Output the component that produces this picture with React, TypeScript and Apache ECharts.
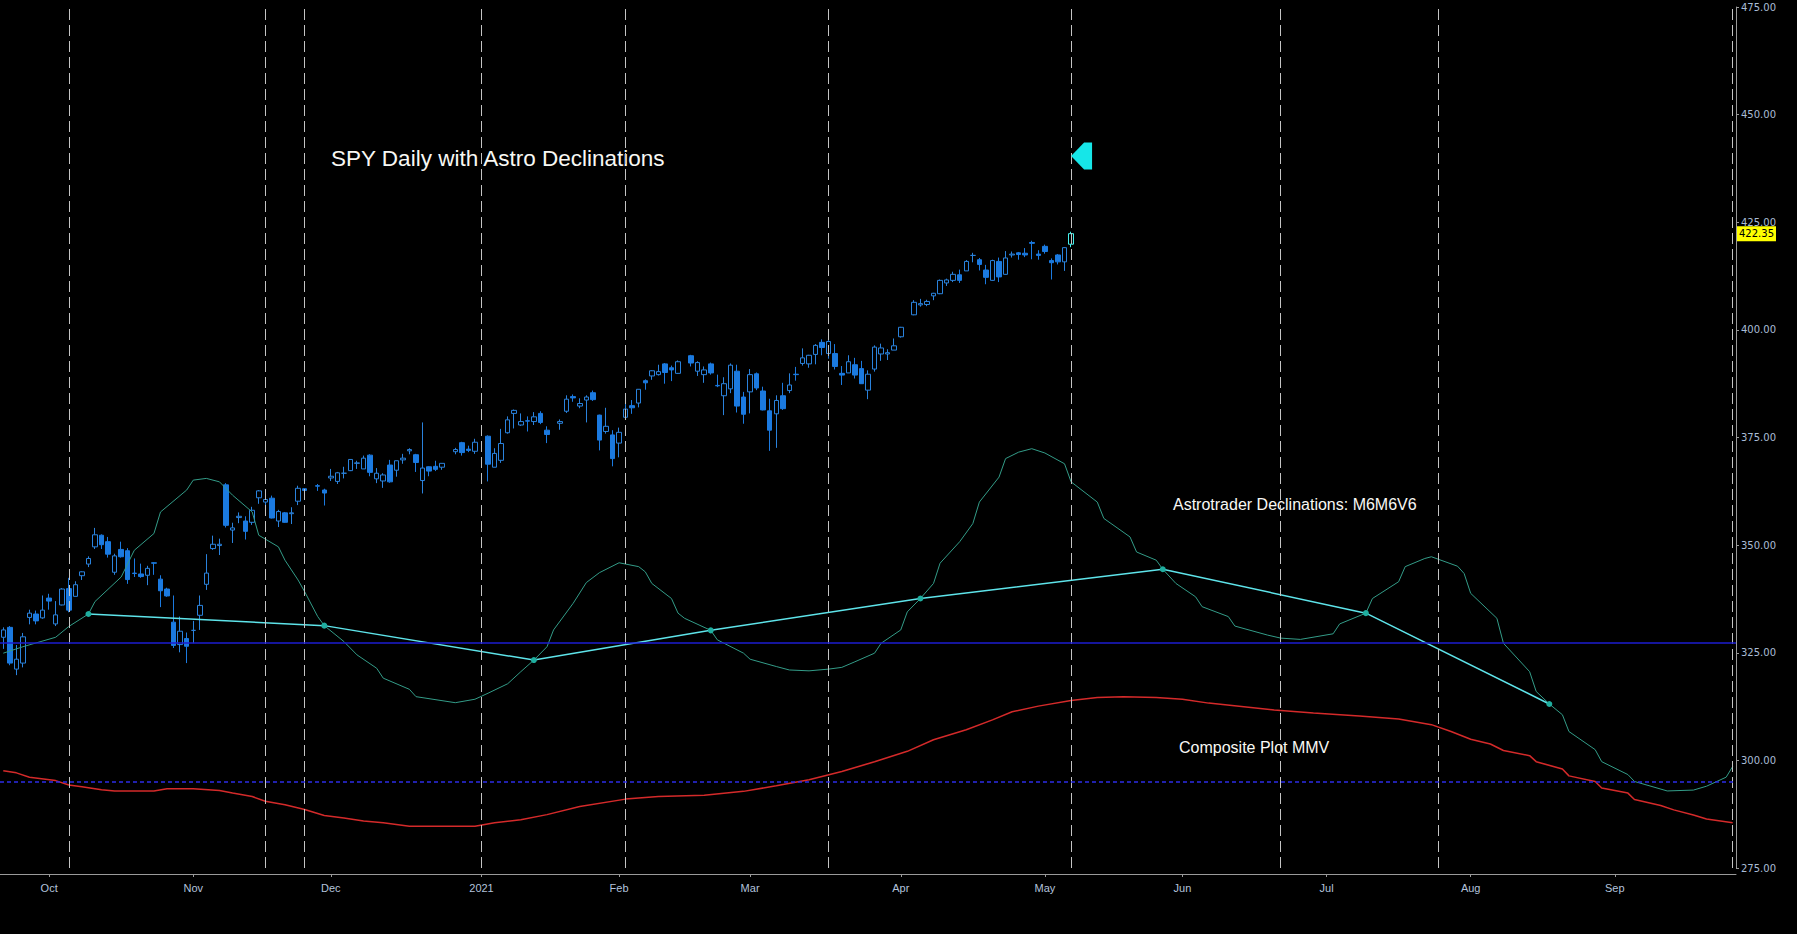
import React, { useEffect, useRef } from "react";
import * as echarts from "echarts";

// ---------- calendar (weekday slots, Bloomberg style) ----------
const START_DATE = "2020-09-22";
const SLOT_COUNT = 265;
const MONTH_NAMES = ["2021", "Feb", "Mar", "Apr", "May", "Jun", "Jul", "Aug", "Sep", "Oct", "Nov", "Dec"];

// ---------- SPY daily candles: [date, open, high, low, close] ----------
const SPY_OHLC: [string, number, number, number, number][] = [
  ["2020-09-22", 328.6, 330.9, 325.9, 330.3],
  ["2020-09-23", 330.9, 331.2, 322.1, 322.6],
  ["2020-09-24", 321.2, 326.8, 319.8, 323.5],
  ["2020-09-25", 322.6, 329.6, 321.6, 328.7],
  ["2020-09-28", 333.2, 335.0, 331.6, 334.2],
  ["2020-09-29", 334.0, 334.8, 331.6, 332.4],
  ["2020-09-30", 333.1, 338.3, 332.9, 334.9],
  ["2020-10-01", 337.7, 338.7, 335.0, 337.0],
  ["2020-10-02", 331.7, 337.0, 331.2, 333.8],
  ["2020-10-05", 336.1, 340.0, 336.0, 339.8],
  ["2020-10-06", 339.9, 342.4, 334.4, 334.9],
  ["2020-10-07", 338.1, 341.6, 338.1, 340.8],
  ["2020-10-08", 342.9, 343.9, 341.9, 343.8],
  ["2020-10-09", 345.6, 347.4, 344.9, 346.9],
  ["2020-10-12", 349.6, 354.0, 349.1, 352.4],
  ["2020-10-13", 352.3, 352.5, 349.1, 350.1],
  ["2020-10-14", 350.8, 351.9, 347.1, 347.9],
  ["2020-10-15", 343.7, 348.0, 343.1, 347.5],
  ["2020-10-16", 349.0, 350.8, 347.1, 347.3],
  ["2020-10-19", 348.7, 349.3, 341.0, 342.0],
  ["2020-10-20", 343.5, 346.9, 342.6, 343.4],
  ["2020-10-21", 343.3, 345.7, 342.4, 342.7],
  ["2020-10-22", 343.0, 345.2, 340.7, 344.6],
  ["2020-10-23", 345.9, 346.0, 343.1, 345.8],
  ["2020-10-26", 342.1, 343.0, 335.6, 339.4],
  ["2020-10-27", 339.8, 340.1, 338.0, 338.2],
  ["2020-10-28", 332.1, 338.3, 326.1, 326.7],
  ["2020-10-29", 326.9, 333.4, 325.1, 330.0],
  ["2020-10-30", 328.3, 329.7, 322.6, 326.5],
  ["2020-11-02", 330.2, 332.4, 327.2, 330.2],
  ["2020-11-03", 333.7, 338.3, 330.3, 336.0],
  ["2020-11-04", 340.9, 347.9, 339.6, 343.5],
  ["2020-11-05", 349.2, 352.2, 348.9, 350.2],
  ["2020-11-06", 349.9, 351.5, 347.7, 350.2],
  ["2020-11-09", 364.0, 364.4, 354.1, 354.6],
  ["2020-11-10", 353.5, 355.2, 350.5, 354.0],
  ["2020-11-11", 356.4, 357.6, 355.1, 356.7],
  ["2020-11-12", 355.6, 356.7, 351.3, 353.2],
  ["2020-11-13", 355.3, 358.9, 354.7, 358.1],
  ["2020-11-16", 361.0, 362.8, 359.6, 362.6],
  ["2020-11-17", 360.0, 361.9, 358.3, 360.6],
  ["2020-11-18", 360.9, 361.5, 356.2, 356.3],
  ["2020-11-19", 355.6, 358.2, 354.2, 357.8],
  ["2020-11-20", 357.5, 357.7, 355.2, 355.3],
  ["2020-11-23", 357.3, 358.8, 354.9, 357.5],
  ["2020-11-24", 360.2, 363.8, 359.3, 363.2],
  ["2020-11-25", 363.1, 363.2, 361.2, 362.7],
  ["2020-11-27", 363.8, 364.2, 362.6, 363.7],
  ["2020-11-30", 362.8, 363.1, 359.2, 362.1],
  ["2020-12-01", 365.6, 367.7, 364.9, 366.0],
  ["2020-12-02", 364.8, 367.0, 364.2, 366.8],
  ["2020-12-03", 366.7, 368.2, 365.5, 366.7],
  ["2020-12-04", 367.3, 369.9, 367.2, 369.9],
  ["2020-12-07", 369.0, 369.6, 367.7, 369.1],
  ["2020-12-08", 367.7, 370.8, 367.7, 370.2],
  ["2020-12-09", 370.9, 371.1, 366.0, 366.9],
  ["2020-12-10", 365.4, 367.9, 364.4, 366.7],
  ["2020-12-11", 364.9, 366.7, 363.3, 366.3],
  ["2020-12-14", 368.6, 369.8, 364.5, 364.7],
  ["2020-12-15", 367.4, 369.6, 365.9, 369.6],
  ["2020-12-16", 369.8, 371.2, 368.9, 370.2],
  ["2020-12-17", 371.9, 372.5, 371.1, 372.2],
  ["2020-12-18", 371.0, 371.2, 367.0, 369.2],
  ["2020-12-21", 365.0, 378.5, 362.0, 367.9],
  ["2020-12-22", 368.2, 368.3, 366.0, 367.2],
  ["2020-12-23", 368.3, 369.6, 367.2, 367.6],
  ["2020-12-24", 368.1, 369.0, 367.5, 369.0],
  ["2020-12-28", 371.7, 372.6, 371.1, 372.2],
  ["2020-12-29", 373.8, 374.0, 370.8, 371.5],
  ["2020-12-30", 372.3, 373.1, 371.6, 372.0],
  ["2020-12-31", 371.8, 374.7, 371.2, 373.9],
  ["2021-01-04", 375.3, 375.5, 364.8, 368.8],
  ["2021-01-05", 368.1, 372.5, 368.1, 371.3],
  ["2021-01-06", 369.7, 377.0, 369.1, 373.6],
  ["2021-01-07", 376.1, 379.9, 375.9, 379.1],
  ["2021-01-08", 380.6, 381.5, 377.1, 381.3],
  ["2021-01-11", 377.9, 380.6, 377.7, 378.7],
  ["2021-01-12", 378.9, 379.9, 376.4, 378.8],
  ["2021-01-13", 378.7, 380.9, 377.9, 379.8],
  ["2021-01-14", 380.6, 381.1, 378.1, 378.5],
  ["2021-01-15", 376.7, 377.6, 373.7, 375.7],
  ["2021-01-19", 378.3, 379.2, 376.8, 378.7],
  ["2021-01-20", 381.1, 384.8, 380.7, 383.9],
  ["2021-01-21", 384.5, 385.0, 383.3, 384.2],
  ["2021-01-22", 382.3, 384.1, 381.8, 382.9],
  ["2021-01-25", 383.7, 384.8, 378.5, 384.4],
  ["2021-01-26", 385.4, 385.9, 383.5, 383.8],
  ["2021-01-27", 380.2, 380.3, 372.0, 374.4],
  ["2021-01-28", 376.4, 381.9, 375.9, 377.6],
  ["2021-01-29", 375.6, 376.7, 368.3, 370.1],
  ["2021-02-01", 373.7, 377.3, 370.4, 376.2],
  ["2021-02-02", 379.7, 383.2, 379.5, 381.6],
  ["2021-02-03", 382.4, 383.7, 380.5, 381.9],
  ["2021-02-04", 383.0, 386.2, 382.0, 386.2],
  ["2021-02-05", 388.2, 388.5, 386.1, 387.7],
  ["2021-02-08", 389.3, 390.6, 388.4, 390.5],
  ["2021-02-09", 389.6, 391.9, 389.4, 390.3],
  ["2021-02-10", 392.1, 392.3, 387.5, 390.1],
  ["2021-02-11", 391.2, 391.7, 388.1, 390.7],
  ["2021-02-12", 389.9, 392.9, 389.8, 392.6],
  ["2021-02-16", 394.0, 394.2, 391.5, 392.3],
  ["2021-02-17", 390.4, 392.7, 389.3, 392.4],
  ["2021-02-18", 389.6, 391.5, 387.7, 390.7],
  ["2021-02-19", 392.1, 392.4, 389.6, 390.0],
  ["2021-02-22", 387.1, 389.6, 386.7, 387.0],
  ["2021-02-23", 384.7, 389.0, 380.2, 387.5],
  ["2021-02-24", 386.3, 392.2, 385.3, 391.8],
  ["2021-02-25", 390.4, 391.9, 380.8, 382.3],
  ["2021-02-26", 384.4, 385.6, 378.2, 380.4],
  ["2021-03-01", 385.6, 390.9, 380.6, 389.6],
  ["2021-03-02", 389.8, 390.1, 386.0, 386.5],
  ["2021-03-03", 385.8, 386.8, 381.3, 381.4],
  ["2021-03-04", 381.2, 384.0, 371.9, 376.7],
  ["2021-03-05", 380.5, 384.8, 372.6, 383.6],
  ["2021-03-08", 384.7, 387.7, 381.4, 381.7],
  ["2021-03-09", 385.9, 389.9, 385.3, 387.2],
  ["2021-03-10", 389.7, 391.4, 388.2, 389.6],
  ["2021-03-11", 392.2, 395.7, 391.7, 393.5],
  ["2021-03-12", 392.1, 394.2, 391.2, 394.1],
  ["2021-03-15", 394.3, 396.7, 392.0, 396.4],
  ["2021-03-16", 397.1, 397.8, 394.1, 395.9],
  ["2021-03-17", 394.5, 398.1, 393.3, 397.3],
  ["2021-03-18", 394.5, 396.7, 390.8, 391.5],
  ["2021-03-19", 389.9, 391.6, 387.2, 389.5],
  ["2021-03-22", 390.0, 394.1, 390.0, 392.6],
  ["2021-03-23", 391.9, 393.5, 388.7, 389.5],
  ["2021-03-24", 391.0, 392.8, 387.5, 387.5],
  ["2021-03-25", 386.0, 390.6, 383.9, 389.7],
  ["2021-03-26", 390.9, 396.4, 390.3, 396.0],
  ["2021-03-29", 394.4, 396.8, 392.8, 395.8],
  ["2021-03-30", 394.4, 395.5, 393.0, 394.7],
  ["2021-03-31", 395.3, 398.0, 395.3, 396.3],
  ["2021-04-01", 398.4, 400.7, 398.2, 400.6],
  ["2021-04-05", 403.5, 406.9, 403.4, 406.4],
  ["2021-04-06", 405.8, 407.2, 405.4, 406.1],
  ["2021-04-07", 405.9, 407.0, 405.5, 406.6],
  ["2021-04-08", 407.9, 408.6, 406.9, 408.5],
  ["2021-04-09", 408.4, 411.7, 408.3, 411.5],
  ["2021-04-12", 410.9, 411.9, 410.2, 411.6],
  ["2021-04-13", 411.5, 413.5, 411.1, 412.9],
  ["2021-04-14", 412.8, 414.0, 410.9, 411.5],
  ["2021-04-15", 413.7, 416.2, 413.7, 415.9],
  ["2021-04-16", 417.3, 417.9, 415.7, 417.3],
  ["2021-04-19", 416.3, 416.7, 413.8, 415.2],
  ["2021-04-20", 413.9, 415.1, 410.6, 412.2],
  ["2021-04-21", 411.5, 416.3, 411.4, 416.1],
  ["2021-04-22", 415.9, 416.8, 411.1, 412.3],
  ["2021-04-23", 412.9, 418.3, 412.8, 416.7],
  ["2021-04-26", 417.4, 418.2, 416.8, 417.6],
  ["2021-04-27", 417.9, 418.1, 416.3, 417.5],
  ["2021-04-28", 417.8, 419.0, 416.9, 417.4],
  ["2021-04-29", 420.3, 420.7, 416.4, 420.1],
  ["2021-04-30", 417.6, 418.5, 416.3, 417.3],
  ["2021-05-03", 419.4, 419.8, 417.7, 418.2],
  ["2021-05-04", 416.1, 416.6, 411.7, 415.6],
  ["2021-05-05", 417.4, 417.6, 415.2, 415.8],
  ["2021-05-06", 415.8, 419.2, 413.7, 419.1],
  ["2021-05-07", 419.9, 422.8, 419.2, 422.35],
];
const LAST_PRICE = 422.35;

// ---------- Astrotrader declinations M6M6V6 (slot index, value) ----------
const DECL_DAY = [0, 3, 8, 10, 13, 14, 18, 20, 23, 24, 28, 29, 31, 33, 35, 38, 39, 42, 43, 45, 46, 48, 49, 52, 54, 57, 58, 62, 63, 69, 72, 74, 77, 79, 81, 83, 84, 87, 89, 91, 94, 97, 98, 99, 102, 103, 104, 108, 109, 113, 114, 118, 120, 123, 126, 128, 130, 133, 134, 137, 138, 140, 142, 143, 146, 148, 149, 152, 153, 155, 157, 159, 162, 163, 167, 168, 172, 173, 176, 177, 179, 182, 183, 187, 188, 193, 195, 198, 203, 204, 208, 209, 213, 214, 217, 218, 222, 223, 224, 228, 229, 233, 234, 236, 238, 239, 243, 244, 248, 249, 254, 258, 260, 263, 264];
const DECL_VAL = [324.9, 326.4, 328.6, 331.1, 334.0, 336.9, 342.6, 348.8, 352.7, 357.7, 362.8, 365.1, 365.5, 364.7, 361.6, 357.7, 352.3, 349.6, 346.5, 341.9, 339.2, 333.4, 331.3, 327.6, 324.5, 321.4, 319.1, 316.5, 314.8, 313.4, 314.2, 315.6, 317.8, 320.6, 323.3, 326.4, 330.3, 336.5, 341.3, 343.6, 345.9, 345.0, 343.8, 341.1, 337.6, 334.2, 333.0, 330.2, 328.0, 324.9, 323.5, 321.8, 321.0, 320.8, 321.2, 321.6, 322.9, 324.9, 327.2, 330.3, 334.5, 337.6, 341.1, 345.8, 350.8, 355.0, 360.0, 365.8, 370.1, 371.6, 372.4, 371.4, 368.9, 364.7, 360.0, 356.2, 351.9, 348.4, 346.5, 344.4, 341.1, 338.0, 335.7, 333.4, 331.2, 329.1, 328.4, 328.1, 329.4, 331.7, 334.2, 337.6, 341.5, 345.0, 346.9, 347.3, 345.1, 343.4, 338.8, 333.0, 327.2, 320.6, 316.0, 313.1, 310.6, 306.7, 302.5, 299.7, 296.7, 295.1, 292.9, 293.1, 294.0, 296.1, 298.6];

// ---------- turning-point trend line ----------
const PIVOT_DAY = [13, 49, 81, 108, 140, 177, 208, 236];
const PIVOT_VAL = [334.0, 331.3, 323.3, 330.2, 337.6, 344.4, 334.2, 313.1];

// ---------- Composite Plot MMV ----------
const MMV_DAY = [0, 2, 4, 8, 10, 12, 15, 17, 23, 25, 29, 33, 35, 38, 40, 43, 46, 49, 52, 55, 58, 62, 72, 75, 79, 83, 88, 95, 100, 107, 113, 118, 123, 128, 133, 138, 142, 147, 151, 154, 158, 163, 167, 171, 176, 180, 184, 194, 200, 207, 213, 218, 221, 224, 227, 229, 233, 234, 238, 239, 243, 244, 248, 249, 253, 255, 258, 260, 264];
const MMV_VAL = [297.6, 297.1, 296.1, 295.3, 294.3, 293.9, 293.2, 292.9, 292.9, 293.4, 293.4, 293.0, 292.4, 291.6, 290.5, 289.7, 288.6, 287.2, 286.6, 285.9, 285.5, 284.7, 284.7, 285.5, 286.2, 287.4, 289.3, 291.0, 291.6, 291.9, 292.8, 294.1, 295.5, 297.4, 299.7, 302.1, 304.8, 307.1, 309.4, 311.3, 312.6, 313.9, 314.6, 314.8, 314.6, 314.2, 313.3, 311.7, 311.0, 310.3, 309.6, 308.3, 306.7, 304.9, 303.8, 302.3, 301.1, 299.7, 298.0, 296.4, 295.1, 293.6, 292.4, 290.9, 289.5, 288.5, 287.3, 286.4, 285.5];

// ---------- reference lines ----------
const CYCLE_DATES = ["2020-10-06", "2020-11-17", "2020-11-25", "2021-01-01", "2021-02-02", "2021-03-17", "2021-05-07", "2021-06-22", "2021-07-26", "2021-09-27"];
const SOLID_LEVEL = 327.3;
const DASHED_LEVEL = 295.0;
const ARROW_LEVEL = 440.4;

function buildWeekdays(): string[] {
  const out: string[] = [];
  const [y, m, d] = START_DATE.split("-").map(Number);
  let t = Date.UTC(y, m - 1, d);
  while (out.length < SLOT_COUNT) {
    const dt = new Date(t);
    const wd = dt.getUTCDay();
    if (wd !== 0 && wd !== 6) out.push(dt.toISOString().slice(0, 10));
    t += 86400000;
  }
  return out;
}

export default function App() {
  const ref = useRef<HTMLDivElement>(null);

  useEffect(() => {
    if (!ref.current) return;
    const chart = echarts.init(ref.current, undefined, { renderer: "svg" });

    const cats = buildWeekdays();
    const isMonthStart = cats.map((c, i) => i > 0 && c.slice(5, 7) !== cats[i - 1].slice(5, 7));
    const byDate: Record<string, [string, number, number, number, number]> = {};
    SPY_OHLC.forEach((r) => (byDate[r[0]] = r));
    const lastDate = SPY_OHLC[SPY_OHLC.length - 1][0];
    const lastIdx = cats.indexOf(lastDate);

    const candleData = cats.map((c) => {
      const r = byDate[c];
      if (!r) return ["-", "-", "-", "-"];
      const v = [r[1], r[4], r[3], r[2]];
      if (c === lastDate) {
        return {
          value: v,
          itemStyle: { color: "rgba(0,0,0,0)", color0: "rgba(0,0,0,0)", borderColor: "#46f2ee", borderColor0: "#46f2ee" },
        };
      }
      return v;
    });

    const pair = (xs: number[], ys: number[]) => xs.map((x, i) => [x, ys[i]]);
    const labelInterval = (idx: number) => isMonthStart[idx];

    const vLines = CYCLE_DATES.map((d) => ({
      xAxis: cats.indexOf(d),
      lineStyle: { color: "#c4c4c4", width: 1, type: [11, 5] },
    }));

    const option: any = {
      animation: false,
      backgroundColor: "#000000",
      grid: { left: 0, right: 61, top: 7, bottom: 66, containLabel: false },
      xAxis: {
        type: "category",
        data: cats,
        boundaryGap: true,
        offset: 6,
        axisLine: { show: true, lineStyle: { color: "#9a9a9a", width: 1 } },
        axisTick: { show: true, alignWithLabel: true, interval: labelInterval, length: 3, lineStyle: { color: "#9a9a9a" } },
        axisLabel: {
          interval: labelInterval,
          formatter: (v: string) => MONTH_NAMES[Number(v.slice(5, 7)) - 1],
          color: "#b3c3dc",
          fontSize: 11,
          fontFamily: "Liberation Sans",
          margin: 8,
        },
        splitLine: { show: false },
      },
      yAxis: {
        type: "value",
        position: "right",
        min: 275,
        max: 475,
        interval: 25,
        axisLine: { show: true, lineStyle: { color: "#9a9a9a", width: 1 } },
        axisTick: { show: true, length: 3, lineStyle: { color: "#9a9a9a" } },
        axisLabel: {
          formatter: (v: number) => v.toFixed(2),
          color: "#a9bcd6",
          fontSize: 10,
          fontFamily: "DejaVu Sans",
          margin: 5,
        },
        splitLine: { show: false },
      },
      graphic: [
        {
          type: "text",
          x: 331,
          y: 158,
          style: { text: "SPY Daily with Astro Declinations", fill: "#f8f8f4", fontSize: 22.5, fontFamily: "Liberation Sans", verticalAlign: "middle" },
        },
        {
          type: "text",
          x: 1173,
          y: 504,
          style: { text: "Astrotrader Declinations: M6M6V6", fill: "#f8f8f4", fontSize: 16, fontFamily: "Liberation Sans", verticalAlign: "middle" },
        },
        {
          type: "text",
          x: 1179,
          y: 747,
          style: { text: "Composite Plot MMV", fill: "#f8f8f4", fontSize: 16, fontFamily: "Liberation Sans", verticalAlign: "middle" },
        },
      ],
      series: [
        {
          name: "Composite Plot MMV",
          type: "line",
          data: pair(MMV_DAY, MMV_VAL),
          showSymbol: false,
          lineStyle: { color: "#d42a2a", width: 1.5 },
          silent: true,
          markLine: {
            silent: true,
            symbol: ["none", "none"],
            label: { show: false },
            data: [
              ...vLines,
              { yAxis: SOLID_LEVEL, lineStyle: { color: "#1c1cd0", width: 1.5, type: "solid" } },
              { yAxis: DASHED_LEVEL, lineStyle: { color: "#2c2ce6", width: 1.5, type: [4, 3] } },
            ],
          },
        },
        {
          name: "Astrotrader Declinations",
          type: "line",
          data: pair(DECL_DAY, DECL_VAL),
          showSymbol: false,
          lineStyle: { color: "#339c88", width: 1 },
          silent: true,
        },
        {
          name: "Pivots",
          type: "line",
          data: pair(PIVOT_DAY, PIVOT_VAL),
          symbol: "circle",
          showSymbol: true,
          showAllSymbol: true,
          symbolSize: 6,
          itemStyle: { color: "#1fae9f", borderWidth: 0 },
          lineStyle: { color: "#5ee4ea", width: 1.5 },
          silent: true,
          z: 3,
        },
        {
          name: "SPY",
          type: "candlestick",
          data: candleData,
          barWidth: 5,
          silent: true,
          itemStyle: {
            color: "rgba(0,0,0,0)",
            color0: "#1b7ae0",
            borderColor: "#2a82dc",
            borderColor0: "#1b7ae0",
            borderColorDoji: "#2a82dc",
            borderWidth: 1,
          },
          markLine: {
            silent: true,
            symbol: ["none", "none"],
            z: 10,
            data: [
              {
                yAxis: LAST_PRICE,
                lineStyle: { color: "rgba(0,0,0,0)", width: 0 },
                label: {
                  show: true,
                  position: "end",
                  formatter: LAST_PRICE.toFixed(2),
                  backgroundColor: "#ffff00",
                  color: "#000000",
                  fontSize: 10,
                  fontFamily: "DejaVu Sans",
                  padding: [3, 2, 2, 2],
                  distance: 1,
                  opacity: 1,
                },
              },
            ],
          },
          markPoint: {
            silent: true,
            data: [
              {
                coord: [lastIdx, ARROW_LEVEL],
                symbol: "path://M0 13 L13 0 L21 0 L21 26 L13 26 Z",
                symbolSize: [21, 27],
                symbolOffset: ["50%", 0],
                itemStyle: { color: "#16e6e8" },
                label: { show: false },
              },
            ],
          },
        },
      ],
    };

    chart.setOption(option);
    return () => chart.dispose();
  }, []);

  return (
    <div
      ref={ref}
      style={{ position: "fixed", left: 0, top: 0, width: "1797px", height: "934px", background: "#000" }}
    />
  );
}
